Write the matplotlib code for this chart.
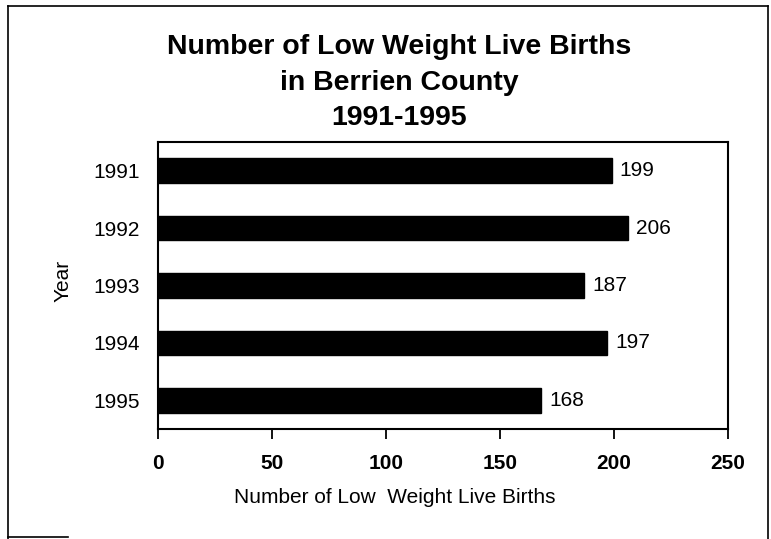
import matplotlib
matplotlib.use("Agg")
import matplotlib.pyplot as plt
from matplotlib.lines import Line2D

years = ["1991", "1992", "1993", "1994", "1995"]
births = [199, 206, 187, 197, 168]
xticks = [0, 50, 100, 150, 200, 250]

plt.rcParams['font.family'] = ['Liberation Sans', 'DejaVu Sans']

fig = plt.figure(figsize=(7.71, 5.39), dpi=100)
ax = fig.add_axes([158/771, 1-429/539, (728-158)/771, (429-142)/539])

pos = list(range(len(years)))
ax.barh(pos, births, height=0.43, color='black', edgecolor='black')
for p, v in zip(pos, births):
    ax.text(v + 3.5, p, str(v), va='center', ha='left', fontsize=15)

ax.set_xlim(0, 250)
ax.set_ylim(len(years) - 0.5, -0.5)
ax.set_yticks(pos)
ax.set_yticklabels(years, fontsize=15)
ax.set_xticks(xticks)
ax.set_xticklabels([str(t) for t in xticks], fontsize=15, fontweight='bold')
ax.tick_params(axis='y', length=0, pad=13)
ax.tick_params(axis='x', direction='out', length=7, width=1.3, pad=11)
for s in ax.spines.values():
    s.set_linewidth(1.5)

ax.set_xlabel("Number of Low  Weight Live Births", fontsize=15, labelpad=11,
              x=(395-158)/570)
ax.set_ylabel("Year", fontsize=15, labelpad=15, y=(429-281)/287)

tx = 399/771
fig.text(tx, 1-47/539, "Number of Low Weight Live Births", ha='center', va='center',
         fontsize=20.5, fontweight='bold')
fig.text(tx, 1-83/539, "in Berrien County", ha='center', va='center',
         fontsize=20.5, fontweight='bold')
fig.text(tx, 1-118/539, "1991-1995", ha='center', va='center',
         fontsize=20.5, fontweight='bold')

L, R, T, B = 8/771, 768/771, 1-6/539, 0.0
for xs, ys in [((L, L), (B, T)), ((L, R), (T, T)), ((R, R), (B, T))]:
    fig.add_artist(Line2D(xs, ys, transform=fig.transFigure, color='black', linewidth=1.2))
fig.add_artist(Line2D((L, 68/771), (2/539, 2/539), transform=fig.transFigure,
                      color='black', linewidth=1.2))

fig.savefig("out.png", dpi=100)
